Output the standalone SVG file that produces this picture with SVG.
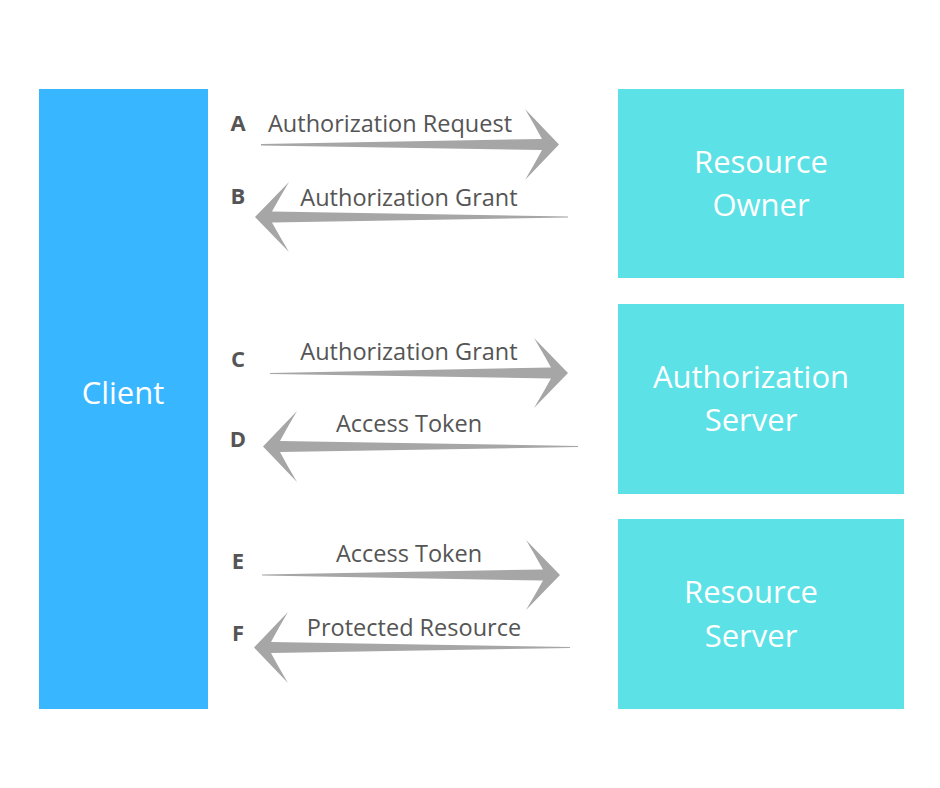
<svg xmlns="http://www.w3.org/2000/svg" width="940" height="788" viewBox="0 0 940 788">
<style>
.client{fill:#38b6ff}
.box{fill:#5ce1e6}
.boxtxt{font-family:"Open Sans","Liberation Sans",sans-serif;font-size:31px;fill:#ffffff;text-anchor:middle}
.lbl{font-family:"Open Sans","Liberation Sans",sans-serif;font-size:23.5px;fill:#555555;text-anchor:middle}
.step{font-family:"Open Sans","Liberation Sans",sans-serif;font-size:22px;font-weight:bold;fill:#555555;text-anchor:middle}
.arrow{fill:#a6a6a6}
</style>
<rect width="940" height="788" fill="#ffffff"/>
<g id="client">
<rect class="client" x="39" y="89" width="169" height="620"/>
<text class="boxtxt" x="123" y="404">Client</text>
</g>
<g id="resource-owner">
<rect class="box" x="618" y="89" width="286" height="189"/>
<text class="boxtxt" x="761" y="173">Resource</text>
<text class="boxtxt" x="761" y="216">Owner</text>
</g>
<g id="authorization-server">
<rect class="box" x="618" y="304" width="286" height="190"/>
<text class="boxtxt" x="751" y="388">Authorization</text>
<text class="boxtxt" x="751" y="431">Server</text>
</g>
<g id="resource-server">
<rect class="box" x="618" y="519" width="286" height="190"/>
<text class="boxtxt" x="751" y="603">Resource</text>
<text class="boxtxt" x="751" y="647">Server</text>
</g>
<g id="connectors">
<g id="flow-a">
<path class="arrow" d="M261,144 L542,139 Q534,124 525,109 L559,144.5 L525,180 Q534,165 542,150 L261,145.5 Z"/>
<text class="step" x="238" y="131">A</text>
<text class="lbl" x="390" y="132">Authorization Request</text>
</g>
<g id="flow-b">
<path class="arrow" d="M568,216.5 L272,211.5 Q280,197 289,182 L255,217 L289,252 Q280,237 272,222.5 L568,217.5 Z"/>
<text class="step" x="238" y="204">B</text>
<text class="lbl" x="409" y="206">Authorization Grant</text>
</g>
<g id="flow-c">
<path class="arrow" d="M270,373 L551,367.5 Q543,353 534,338 L568,373 L534,408 Q543,393 551,378.5 L270,374 Z"/>
<text class="step" x="238" y="367">C</text>
<text class="lbl" x="409" y="360">Authorization Grant</text>
</g>
<g id="flow-d">
<path class="arrow" d="M578,446 L280,441 Q288,426 297,411 L263,446.5 L297,482 Q288,467 280,452 L578,447 Z"/>
<text class="step" x="238" y="447">D</text>
<text class="lbl" x="409" y="432">Access Token</text>
</g>
<g id="flow-e">
<path class="arrow" d="M262,574.5 L543,569.5 Q535,555 526,540 L560,575 L526,610 Q535,595 543,580.5 L262,575.5 Z"/>
<text class="step" x="238" y="569">E</text>
<text class="lbl" x="409" y="562">Access Token</text>
</g>
<g id="flow-f">
<path class="arrow" d="M570,647 L271,642 Q279,627 288,612 L254,647.5 L288,683 Q279,668 271,653 L570,648 Z"/>
<text class="step" x="238" y="641">F</text>
<text class="lbl" x="414" y="636">Protected Resource</text>
</g>
</g>
</svg>
